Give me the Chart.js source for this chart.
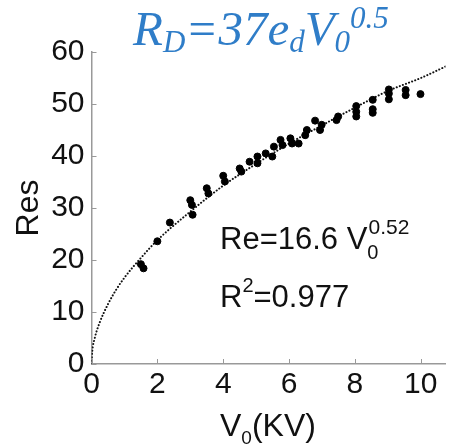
<!DOCTYPE html>
<html>
<head>
<meta charset="utf-8">
<script src="https://cdn.jsdelivr.net/npm/chart.js@4"></script>
<style>
  html, body { margin: 0; padding: 0; background: #fff; }
  #wrap { width: 450px; height: 448px; }
</style>
</head>
<body>
<div id="wrap"><canvas id="myChart" width="450" height="448"></canvas></div>
<script>
const voltage = [1.5, 1.58, 2.0, 2.38, 3.0, 3.05, 3.07, 3.5, 3.55, 4.0, 4.05, 4.5, 4.55,
    4.8, 5.04, 5.04, 5.29, 5.49, 5.54, 5.74, 5.8, 6.04, 6.09, 6.29, 6.49, 6.54,
    6.79, 6.94, 6.99, 7.44, 7.49, 8.04, 8.04, 8.04, 8.54, 8.54, 8.54,
    9.03, 9.03, 9.03, 9.54, 9.54, 9.99];
const resistance = [19.2, 18.4, 23.6, 27.2, 31.5, 30.6, 28.7, 33.8, 32.8, 36.2, 35.1, 37.6, 37.0,
    38.9, 39.9, 38.6, 40.5, 39.9, 41.8, 43.1, 42.1, 43.4, 42.4, 42.4, 44.0, 45.0,
    46.8, 45.0, 46.0, 46.9, 47.6, 49.6, 48.5, 47.6, 50.8, 49.0, 48.3,
    52.8, 52.0, 50.9, 52.7, 51.7, 51.9];

// dotted fit curve
const fitV = [0, 0.02, 0.1, 0.25, 0.5, 0.75, 1, 1.5, 2, 3, 4, 5, 6, 7, 8, 9, 10, 10.75];
const fitRe = [0, 2.2, 5.0, 8.0, 11.5, 14.3, 16.6, 20.4, 23.8, 29.3, 34.3, 38.5, 42.4, 45.9, 49.3, 52.5, 55.0, 57.2];

const xTicks = [0, 2, 4, 6, 8, 10];
const yTicks = [0, 10, 20, 30, 40, 50, 60];

const blue = '#2f7dc8';
const sans = "'Liberation Sans', Arial, sans-serif";
const serif = "'Liberation Serif', 'Times New Roman', serif";

// draw a run of text pieces: {t, size, dy, style}
function drawRich(ctx, parts, x, y, family, color) {
    ctx.save();
    ctx.fillStyle = color;
    ctx.textBaseline = 'alphabetic';
    ctx.textAlign = 'left';
    parts.forEach(p => {
        ctx.font = (p.style || '') + ' ' + p.size + 'px ' + family;
        ctx.fillText(p.t, x, y + (p.dy || 0));
        x += ctx.measureText(p.t).width + (p.gap || 0);
    });
    ctx.restore();
}

const textPlugin = {
    id: 'textPlugin',
    afterDraw(chart) {
        const ctx = chart.ctx;
        const xs = chart.scales.x, ys = chart.scales.y;

        // inward ticks like matlab
        ctx.save();
        ctx.strokeStyle = '#999';
        ctx.lineWidth = 1;
        ctx.beginPath();
        xTicks.forEach(v => {
            const px = Math.round(xs.getPixelForValue(v)) + 0.5;
            ctx.moveTo(px, ys.bottom);
            ctx.lineTo(px, ys.bottom - 5);
        });
        yTicks.forEach(v => {
            const py = Math.round(ys.getPixelForValue(v)) + 0.5;
            ctx.moveTo(xs.left, py);
            ctx.lineTo(xs.left + 5, py);
        });
        ctx.stroke();
        ctx.restore();

        // title
        drawRich(ctx, [
            {t: 'R', size: 49, style: 'italic'},
            {t: 'D', size: 31, dy: 7, style: 'italic'},
            {t: '=37e', size: 49, style: 'italic'},
            {t: 'd', size: 31, dy: 7, style: 'italic'},
            {t: 'V', size: 49, style: 'italic'},
            {t: '0', size: 31, dy: 7, style: 'italic'},
            {t: '0.5', size: 31, dy: -17, style: 'italic'}
        ], 133, 45, serif, blue);

        // fit equation
        drawRich(ctx, [
            {t: 'Re=16.6 V', size: 31},
            {t: '0', size: 20, dy: 10, gap: -10},
            {t: '0.52', size: 21, dy: -15}
        ], 220, 249, sans, '#111');
        drawRich(ctx, [
            {t: 'R', size: 31},
            {t: '2', size: 20, dy: -15},
            {t: '=0.977', size: 31}
        ], 220, 307, sans, '#111');

        // x axis title
        drawRich(ctx, [
            {t: 'V', size: 32},
            {t: '0', size: 19, dy: 8},
            {t: '(KV)', size: 32}
        ], 220, 436, sans, '#111');
    }
};

const data = {
    datasets: [
        {
            type: 'scatter',
            label: 'Res',
            data: voltage.map((v, i) => ({x: v, y: resistance[i]})),
            backgroundColor: '#000',
            borderColor: '#000',
            pointRadius: 3.5,
            pointHoverRadius: 3.5
        },
        {
            type: 'line',
            label: 'fit',
            data: fitV.map((v, i) => ({x: v, y: fitRe[i]})),
            borderColor: '#111',
            borderWidth: 2,
            borderDash: [0.1, 3.2],
            borderCapStyle: 'round',
            pointRadius: 0,
            fill: false,
            cubicInterpolationMode: 'monotone'
        }
    ]
};

const config = {
    type: 'scatter',
    data: data,
    options: {
        responsive: false,
        animation: false,
        layout: { padding: { top: 52, right: 0, left: 0, bottom: 0 } },
        plugins: {
            legend: { display: false },
            tooltip: { enabled: false },
            title: { display: false }
        },
        scales: {
            x: {
                type: 'linear',
                min: 0,
                max: 10.75,
                afterBuildTicks: (scale) => { scale.ticks = xTicks.map(v => ({value: v})); },
                afterFit: (scale) => { scale.height = 84; },
                grid: { display: true, drawOnChartArea: false, drawTicks: false },
                border: { display: true, color: '#999', width: 1.5 },
                ticks: {
                    color: '#111',
                    font: { family: sans, size: 30 },
                    padding: 3,
                    maxRotation: 0
                }
            },
            y: {
                type: 'linear',
                min: 0,
                max: 60,
                afterBuildTicks: (scale) => { scale.ticks = yTicks.map(v => ({value: v})); },
                afterFit: (scale) => { scale.width = 91.5; },
                grid: { display: true, drawOnChartArea: false, drawTicks: false },
                border: { display: true, color: '#999', width: 1.5 },
                ticks: {
                    color: '#111',
                    font: { family: sans, size: 30 },
                    padding: 7
                },
                title: {
                    display: true,
                    text: 'Res',
                    color: '#111',
                    font: { family: sans, size: 32 },
                    padding: { top: 10, bottom: 0 }
                }
            }
        }
    },
    plugins: [textPlugin]
};

new Chart(document.getElementById('myChart'), config);
</script>
</body>
</html>
